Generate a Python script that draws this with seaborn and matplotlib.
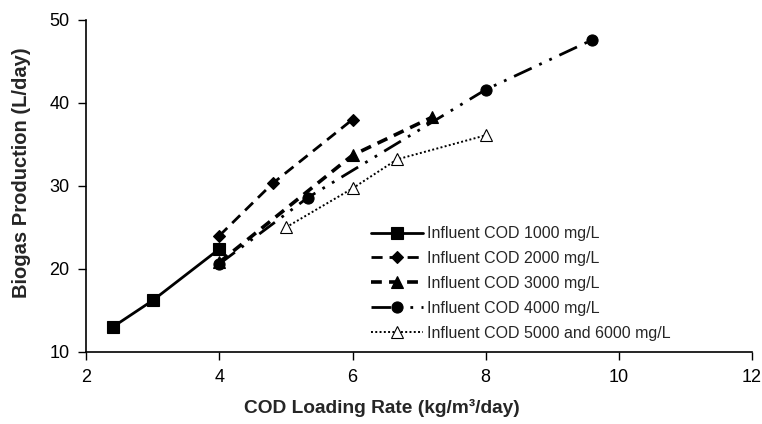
import matplotlib
matplotlib.use("Agg")
import matplotlib.pyplot as plt
import seaborn as sns
import pandas as pd

# Data
x_1000 = [2.4, 3.0, 4.0]
y_1000 = [13.0, 16.2, 22.4]
x_2000 = [4.0, 4.8, 6.0]
y_2000 = [24.0, 30.3, 38.0]
x_3000 = [4.0, 6.0, 7.2]
y_3000 = [20.8, 33.7, 38.3]
x_4000 = [4.0, 5.33, 8.0, 9.6]
y_4000 = [20.6, 28.6, 41.6, 47.6]
x_5000 = [5.0, 6.0, 6.67, 8.0]
y_5000 = [25.0, 29.7, 33.2, 36.1]
labels = ["Influent COD 1000 mg/L", "Influent COD 2000 mg/L", "Influent COD 3000 mg/L",
          "Influent COD 4000 mg/L", "Influent COD 5000 and 6000 mg/L"]
x_ticks = [2, 4, 6, 8, 10, 12]
y_ticks = [10, 20, 30, 40, 50]

sns.set_style("ticks")
plt.rcParams['font.family'] = ['Liberation Sans', 'DejaVu Sans']

fig = plt.figure(figsize=(7.62, 4.24), dpi=100)
ax = fig.add_axes([0.113, 0.170, 0.874, 0.783])

series = [
    (x_1000, y_1000, dict(marker='s', markersize=8, linestyle='-', linewidth=2.0)),
    (x_2000, y_2000, dict(marker='D', markersize=6, linestyle=(0, (4, 2.5)), linewidth=2.0)),
    (x_3000, y_3000, dict(marker='^', markersize=8, linestyle=(0, (3, 2)), linewidth=2.6)),
    (x_4000, y_4000, dict(marker='o', markersize=8, linestyle=(0, (7, 3, 1, 3, 1, 3)), linewidth=2.0)),
    (x_5000, y_5000, dict(marker='^', markersize=8, markerfacecolor='white',
                          linestyle=(0, (1, 1.2)), linewidth=1.4)),
]
for (xs, ys, kw), lab in zip(series, labels):
    df = pd.DataFrame({"x": xs, "y": ys})
    sns.lineplot(data=df, x="x", y="y", ax=ax, color='black', label=lab, sort=False,
                 markeredgecolor='black', markeredgewidth=0.8, **kw)

ax.set_xlim(2, 12)
ax.set_ylim(10, 50)
ax.set_xticks(x_ticks)
ax.set_yticks(y_ticks)
ax.tick_params(axis='both', labelsize=13, direction='out', length=6, width=1, colors='black', pad=6)
for s in ['top', 'right']:
    ax.spines[s].set_visible(False)
for s in ['left', 'bottom']:
    ax.spines[s].set_linewidth(1.2)
    ax.spines[s].set_color('black')

ax.set_xlabel("COD Loading Rate (kg/m³/day)", fontsize=13.8, fontweight='bold')
ax.set_ylabel("Biogas Production (L/day)", fontsize=14.5, fontweight='bold')
ax.xaxis.set_label_coords(0.444, -0.143)
ax.yaxis.set_label_coords(-0.083, 0.54)

leg = ax.legend(loc='lower right', bbox_to_anchor=(0.895, 0.0), frameon=False, fontsize=11.5,
                handlelength=3.2, handletextpad=0.3, labelspacing=0.62, borderaxespad=0.3)

fig.savefig("out.png", dpi=100)
